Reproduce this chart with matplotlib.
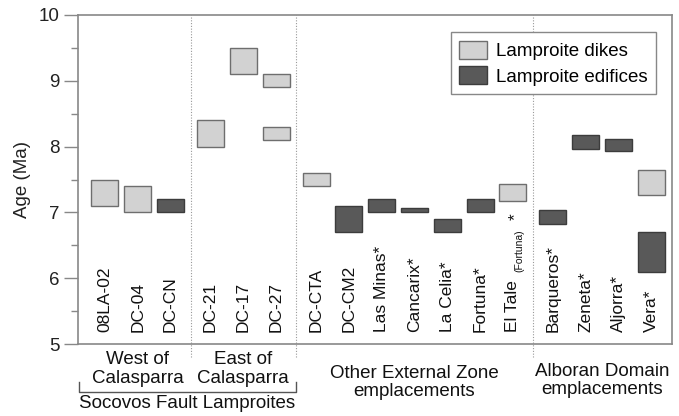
import matplotlib
matplotlib.use("Agg")
import matplotlib.pyplot as plt
from matplotlib.patches import Rectangle, Patch

plt.rcParams['font.family'] = ['Liberation Sans', 'DejaVu Sans']

# samples, left to right
samples = ['08LA-02', 'DC-04', 'DC-CN',
           'DC-21', 'DC-17', 'DC-27',
           'DC-CTA', 'DC-CM2', 'Las Minas*', 'Cancarix*', 'La Celia*', 'Fortuna*', 'El Tale',
           'Barqueros*', 'Zeneta*', 'Aljorra*', 'Vera*']
group_sizes = [3, 3, 7, 4]

# age ranges (Ma), one entry per box
box_sample = ['08LA-02', 'DC-04', 'DC-CN', 'DC-21', 'DC-17', 'DC-27', 'DC-27',
              'DC-CTA', 'DC-CM2', 'Las Minas*', 'Cancarix*', 'La Celia*', 'Fortuna*', 'El Tale',
              'Barqueros*', 'Zeneta*', 'Aljorra*', 'Vera*', 'Vera*']
box_lo = [7.1, 7.0, 7.0, 8.0, 9.1, 8.9, 8.1,
          7.4, 6.7, 7.0, 7.01, 6.7, 7.0, 7.17,
          6.83, 7.97, 7.93, 7.26, 6.1]
box_hi = [7.5, 7.4, 7.2, 8.4, 9.5, 9.1, 8.3,
          7.6, 7.1, 7.2, 7.07, 6.9, 7.2, 7.43,
          7.04, 8.18, 8.11, 7.64, 6.7]
box_kind = ['dike', 'dike', 'edifice', 'dike', 'dike', 'dike', 'dike',
            'dike', 'edifice', 'edifice', 'edifice', 'edifice', 'edifice', 'dike',
            'edifice', 'edifice', 'edifice', 'dike', 'edifice']

group_labels = ['West of\nCalasparra', 'East of\nCalasparra',
                'Other External Zone\nemplacements', 'Alboran Domain\nemplacements']

fill = {'dike': '#d2d2d2', 'edifice': '#595959'}
edge = {'dike': '#6e6e6e', 'edifice': '#3c3c3c'}

# x positions with a small gap between groups
gap = 0.22
xpos = []
x = 0.0
for g, n in enumerate(group_sizes):
    for i in range(n):
        xpos.append(x)
        x += 1
    x += gap
xpos_of = dict(zip(samples, xpos))

fig = plt.figure(figsize=(6.79, 4.16), dpi=100)
ax = fig.add_axes([0.1149, 0.173, 0.8748, 0.791])

w = 0.82
for s, lo, hi, k in zip(box_sample, box_lo, box_hi, box_kind):
    ax.add_patch(Rectangle((xpos_of[s] - w / 2, lo), w, hi - lo,
                           facecolor=fill[k], edgecolor=edge[k], lw=1.0, zorder=3))

xmin, xmax = -0.82, 17.29
ax.set_xlim(xmin, xmax)
ax.set_ylim(5, 10)
ax.set_xticks([])
ax.set_yticks([5, 6, 7, 8, 9, 10])
ax.set_yticks([5.5, 6.5, 7.5, 8.5, 9.5], minor=True)
ax.tick_params(axis='y', which='major', length=10, width=1, color='#888888',
               labelsize=13.5, labelcolor='#222222', pad=3)
ax.tick_params(axis='y', which='minor', length=5, width=1, color='#888888')
for sp in ax.spines.values():
    sp.set_color('#888888')
    sp.set_linewidth(1.2)
ax.set_ylabel('Age (Ma)', fontsize=13.5, color='#222222', labelpad=6)

# sample names inside the plot
for s, xp in zip(samples, xpos):
    if s == 'El Tale':
        ax.text(xp, 5.18, 'El Tale', rotation=90, ha='center', va='bottom',
                fontsize=12.5, color='#111111')
        ax.text(xp + 0.2, 6.1, '(Fortuna)', rotation=90, ha='center', va='bottom',
                fontsize=7.5, color='#111111')
        ax.text(xp + 0.08, 6.88, '*', rotation=90, ha='center', va='bottom',
                fontsize=12.5, color='#111111')
    else:
        ax.text(xp, 5.18, s, rotation=90, ha='center', va='bottom',
                fontsize=12.5, color='#111111')

# dotted group separators, running below the axis
starts = [0, 3, 6, 13]
seps = []
for g in range(1, 4):
    seps.append((xpos[starts[g] - 1] + xpos[starts[g]]) / 2)
for sx in seps:
    ax.plot([sx, sx], [4.8, 10], ls=(0, (1, 1.5)), lw=0.8, color='#999999',
            clip_on=False, zorder=1)

# group labels under the axis
label_y = [4.62, 4.62, 4.415, 4.445]
for g in range(4):
    xs = xpos[starts[g]:starts[g] + group_sizes[g]]
    cx = (xs[0] + xs[-1]) / 2
    ax.text(cx, label_y[g], group_labels[g], ha='center', va='center',
            fontsize=13.5, color='#111111', linespacing=1.1, clip_on=False)

# bracket for Socovos Fault Lamproites
bx0, bx1 = xmin + 0.02, seps[1]
ax.plot([bx0, bx0, bx1, bx1], [4.42, 4.27, 4.27, 4.42], color='#555555', lw=1.0,
        clip_on=False)
ax.text((bx0 + bx1) / 2, 4.10, 'Socovos Fault Lamproites', ha='center', va='center',
        fontsize=13.5, color='#111111', clip_on=False)

handles = [Patch(facecolor=fill['dike'], edgecolor=edge['dike'], label='Lamproite dikes'),
           Patch(facecolor=fill['edifice'], edgecolor=edge['edifice'], label='Lamproite edifices')]
leg = ax.legend(handles=handles, loc='upper right', bbox_to_anchor=(0.973, 0.948),
                borderaxespad=0, fontsize=13.5, fancybox=False, framealpha=1,
                edgecolor='#888888', handlelength=1.5, handleheight=1.1,
                borderpad=0.45, labelspacing=0.35, handletextpad=0.45)
leg.get_frame().set_linewidth(1.0)

fig.savefig('out.png', dpi=100)
